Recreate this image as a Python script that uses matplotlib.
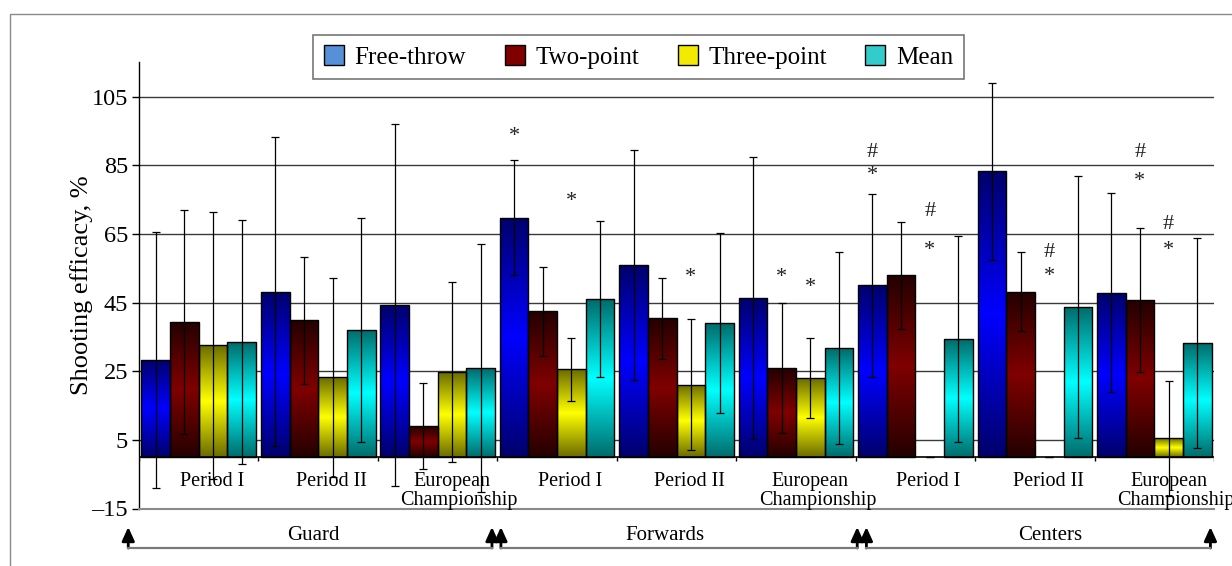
import numpy as np
import matplotlib
matplotlib.use("Agg")
import matplotlib.pyplot as plt
from matplotlib.patches import Patch, Rectangle
from matplotlib.transforms import blended_transform_factory

plt.rcParams['font.family'] = ['Liberation Serif', 'DejaVu Serif']

# ---- data -------------------------------------------------------------
periods = ["Period I", "Period II", "European\nChampionship"] * 3
positions = ["Guard", "Forwards", "Centers"]
series = ["Free-throw", "Two-point", "Three-point", "Mean"]

free_throw = [28.4, 48.2, 44.2, 69.7, 55.9, 46.3, 50.0, 83.3, 47.9]
free_throw_sd = [37.3, 45.0, 52.7, 16.7, 33.5, 41.0, 26.7, 25.8, 29.0]
two_point = [39.4, 39.8, 9.0, 42.4, 40.4, 25.9, 52.9, 48.2, 45.7]
two_point_sd = [32.6, 18.5, 12.5, 13.0, 11.9, 19.0, 15.5, 11.5, 21.0]
three_point = [32.5, 23.3, 24.7, 25.6, 21.1, 23.0, 0.0, 0.0, 5.4]
three_point_sd = [39.0, 29.0, 26.2, 9.2, 19.0, 11.7, 0.0, 0.0, 16.8]
mean_eff = [33.5, 37.1, 25.9, 46.0, 39.0, 31.7, 34.3, 43.7, 33.2]
mean_sd = [35.5, 32.6, 36.2, 22.8, 26.3, 27.9, 30.0, 38.3, 30.5]

# significance marks: (group, series index, symbol, height)
marks = [
    (3, 0, "*", 93.8), (3, 2, "*", 74.8), (4, 2, "*", 52.9),
    (5, 1, "*", 52.9), (5, 2, "*", 50.0),
    (6, 0, "#", 89.1), (6, 0, "*", 82.4), (6, 2, "#", 72.0), (6, 2, "*", 60.7),
    (7, 2, "#", 60.0), (7, 2, "*", 53.0),
    (8, 1, "#", 89.1), (8, 1, "*", 80.7), (8, 2, "#", 68.3), (8, 2, "*", 60.8),
]

y_ticks = [-15, 5, 25, 45, 65, 85, 105]

# ---- styling ----------------------------------------------------------
legend_colors = ["#5590d8", "#800000", "#f2ea00", "#33cccc"]
grad_dark = [(0.0, 0.0, 0.42), (0.14, 0.0, 0.0), (0.42, 0.42, 0.0), (0.0, 0.42, 0.42)]
grad_light = [(0.0, 0.0, 1.0), (0.50, 0.0, 0.0), (1.0, 1.0, 0.0), (0.0, 1.0, 1.0)]

values = [free_throw, two_point, three_point, mean_eff]
errors = [free_throw_sd, two_point_sd, three_point_sd, mean_sd]

W, H = 1232, 566
fig = plt.figure(figsize=(W / 100, H / 100), dpi=100)
ax = fig.add_axes([139 / W, 1 - 508.5 / H, (1214 - 139) / W, (508.5 - 62.3) / H])

# outer frame of the chart area
fig.patches.append(Rectangle((10 / W, -0.2), 1.2, 1 - 14 / H + 0.2,
                             transform=fig.transFigure, fill=False,
                             edgecolor="#8a8a8a", linewidth=1.0))

n_groups = len(periods)
bar_w = 0.24
offsets = [-0.36, -0.12, 0.12, 0.36]
x = np.arange(n_groups)

# gradient: dark at the ends of the bar, bright at its middle
t = np.linspace(0, 1, 256)
prof = 1 - np.abs(2 * t - 1)

for i in range(4):
    xs = x + offsets[i]
    vals = np.array(values[i])
    lw = [1.0 if v > 0 else 0.0 for v in vals]
    bars = ax.bar(xs, vals, width=bar_w, facecolor="none", edgecolor="black",
                  linewidth=lw, zorder=3)
    dark = np.array(grad_dark[i])
    light = np.array(grad_light[i])
    img = (dark[None, :] + (light - dark)[None, :] * prof[:, None])[:, None, :]
    for b, v in zip(bars, vals):
        if v <= 0:
            continue
        x0 = b.get_x()
        im = ax.imshow(img, extent=[x0, x0 + bar_w, 0, v], origin="lower",
                       aspect="auto", interpolation="bilinear", zorder=2)
        im.set_clip_path(b)
    ax.errorbar(xs, vals, yerr=errors[i], fmt="none", ecolor="black",
                elinewidth=0.9, capsize=3.2, capthick=0.9, zorder=4)

for g, s, sym, yv in marks:
    ax.text(g + offsets[s], yv - 0.5, sym, ha="center", va="center", fontsize=16,
            color="#222222", zorder=5)

ax.set_xlim(-0.5, n_groups - 0.5)
ax.set_ylim(-15, 115)
ax.set_yticks(y_ticks)
ax.set_yticklabels([f"{v}".replace("-", "\u2013") for v in y_ticks], fontsize=17.5)
ax.set_xticks([])
ax.tick_params(axis="y", direction="out", length=5, width=1, color="black", pad=3)

for v in y_ticks[1:]:
    ax.axhline(v, color="#3a3a3a", linewidth=1, zorder=1)
ax.axhline(0, color="black", linewidth=1.2, zorder=5)
ax.vlines(np.arange(n_groups + 1) - 0.5, -1.3, 0, color="black", linewidth=1, zorder=5)

for sp in ["top", "right"]:
    ax.spines[sp].set_visible(False)
ax.spines["left"].set_color("black")
ax.spines["left"].set_linewidth(1)
ax.spines["bottom"].set_color("#8a8a8a")
ax.spines["bottom"].set_linewidth(1.5)

# period labels under each group
for g, lab in enumerate(periods):
    lines = lab.split("\n")
    if len(lines) == 1:
        ax.text(g + 0.11, -7.2, lines[0], ha="center", va="center", fontsize=14.5)
    else:
        ax.text(g + 0.12, -7.2, lines[0], ha="center", va="center", fontsize=14.5)
        ax.text(g + 0.18, -12.6, lines[1], ha="center", va="center", fontsize=14.5)

# position brackets with arrows
tr = blended_transform_factory(ax.transData, fig.transFigure)
brackets = [(-0.59, 2.455), (2.53, 5.513), (5.59, 8.47)]
label_x = [0.957, 3.905, 7.13]
y_line = 1 - 548 / H
y_top = 1 - 527 / H
for (a, b), name, lx in zip(brackets, positions, label_x):
    ax.plot([a, b], [y_line, y_line], transform=tr, color="#7a7a7a", lw=1.6,
            clip_on=False, zorder=5)
    for xx in (a, b):
        ax.annotate("", xy=(xx, y_top), xycoords=tr, xytext=(xx, y_line), textcoords=tr,
                    arrowprops=dict(arrowstyle="-|>,head_length=0.55,head_width=0.25",
                                    color="black", lw=2, shrinkA=0, shrinkB=0,
                                    mutation_scale=15),
                    annotation_clip=False)
    ax.text(lx, 1 - 535 / H, name, transform=tr, ha="center", va="center", fontsize=15)

fig.text(82 / W, 1 - 285 / H, "Shooting efficacy, %", rotation=90,
         ha="center", va="center", fontsize=19)

handles = [Patch(facecolor=c, edgecolor="black", linewidth=1) for c in legend_colors]
leg = fig.legend(handles, series, loc="center", bbox_to_anchor=(638.5 / W, 1 - 57 / H),
                 ncol=4, frameon=True, fancybox=False, fontsize=18,
                 handlelength=0.8, handleheight=0.8, handletextpad=0.42,
                 columnspacing=1.55, borderpad=0.42)
leg.get_frame().set_edgecolor("#555555")
leg.get_frame().set_linewidth(1.2)

fig.savefig("out.png", dpi=100)
